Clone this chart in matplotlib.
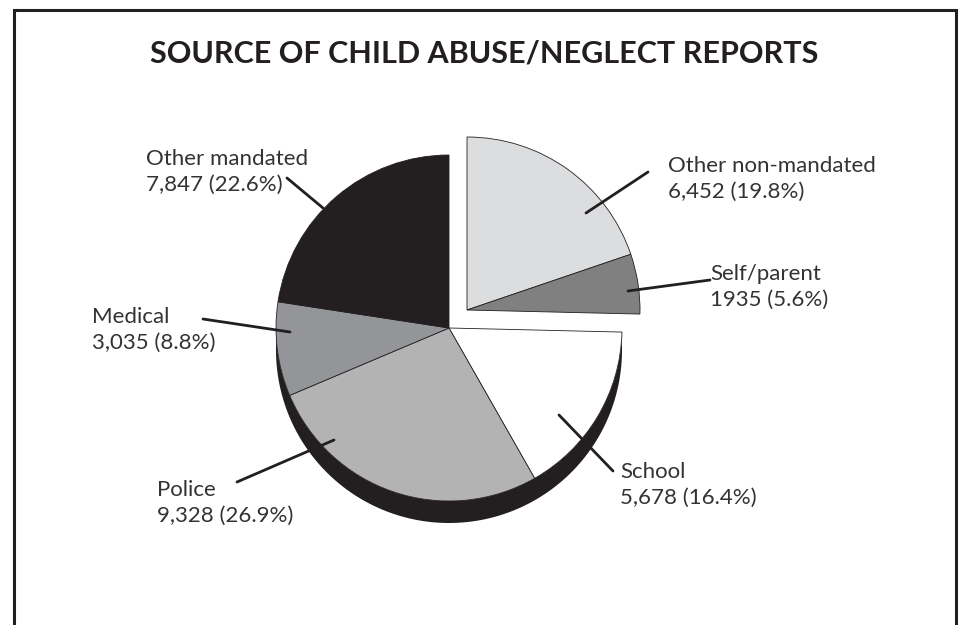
import matplotlib
matplotlib.use("Agg")
import matplotlib.pyplot as plt
import numpy as np
from matplotlib.patches import Polygon, Rectangle

# slices in clockwise order from 12 o'clock
categories = ["Other non-mandated", "Self/parent", "School", "Police", "Medical", "Other mandated"]
counts = ["6,452", "1935", "5,678", "9,328", "3,035", "7,847"]
percents = [19.8, 5.6, 16.4, 26.9, 8.8, 22.6]
exploded = [True, True, False, False, False, False]

colors = ["#dcdddf", "#808080", "#ffffff", "#b3b3b3", "#939598", "#231f20"]
ink = "#231f20"
text_col = "#333333"

W, H = 961, 625
fig = plt.figure(figsize=(W / 100, H / 100), dpi=100)
ax = fig.add_axes([0, 0, 1, 1])


def py(y):
    # pixel row (from top) -> data y
    return H - y


cx, cy, r = 449, py(328), 173
ex, ey = 467, py(310)
depth = 22

# black side face of the "3d" pie: between the lower rim and the same rim pushed down
t = np.linspace(np.pi, 2 * np.pi, 200)
rim = np.column_stack([cx + r * np.cos(t), cy + r * np.sin(t)])
low = rim[::-1] - [0, depth]
ax.add_patch(Polygon(np.vstack([rim, low]), closed=True, color=ink, lw=0, zorder=0))

# main pie, then the pulled-out group drawn at its own centre
for center, pulled in [((cx, cy), False), ((ex, ey), True)]:
    wedges, _ = ax.pie(percents, colors=colors, startangle=90, counterclock=False,
                       center=center, radius=r,
                       wedgeprops=dict(edgecolor=ink, linewidth=0.6))
    for w, e in zip(wedges, exploded):
        w.set_visible(e == pulled)

# labels: left x, first-line baseline (pixels)
label_x = [668, 710, 620, 157, 92, 146]
label_y = [172, 280, 478, 496, 323, 165]
line_gap = 26
leader_from = [(648, 172), (710, 280), (613, 471), (237, 482), (203, 319), (287, 178)]
leader_to = [(586, 213), (628, 291), (559, 415), (334, 440), (290, 332), (323, 208)]

for i, name in enumerate(categories):
    ax.text(label_x[i], py(label_y[i]), name, fontsize=16, family="Lato",
            color=text_col, ha="left", va="baseline")
    ax.text(label_x[i], py(label_y[i] + line_gap), f"{counts[i]} ({percents[i]}%)",
            fontsize=16, family="Lato", color=text_col, ha="left", va="baseline")
    (x0, y0), (x1, y1) = leader_from[i], leader_to[i]
    ax.annotate("", xy=(x1, py(y1)), xytext=(x0, py(y0)),
                arrowprops=dict(arrowstyle="-", lw=2, color=ink, shrinkA=0, shrinkB=0))

ax.text(484, py(62), "SOURCE OF CHILD ABUSE/NEGLECT REPORTS", fontsize=22,
        family="Lato", fontweight="bold", color=ink, ha="center", va="baseline")

# page frame, open at the bottom edge
ax.add_patch(Rectangle((13.5, -50), 942, py(9.5) + 50, fill=False, ec=ink, lw=2.2))

ax.set_xlim(0, W)
ax.set_ylim(0, H)
ax.axis("off")

fig.savefig("out.png", dpi=100)
